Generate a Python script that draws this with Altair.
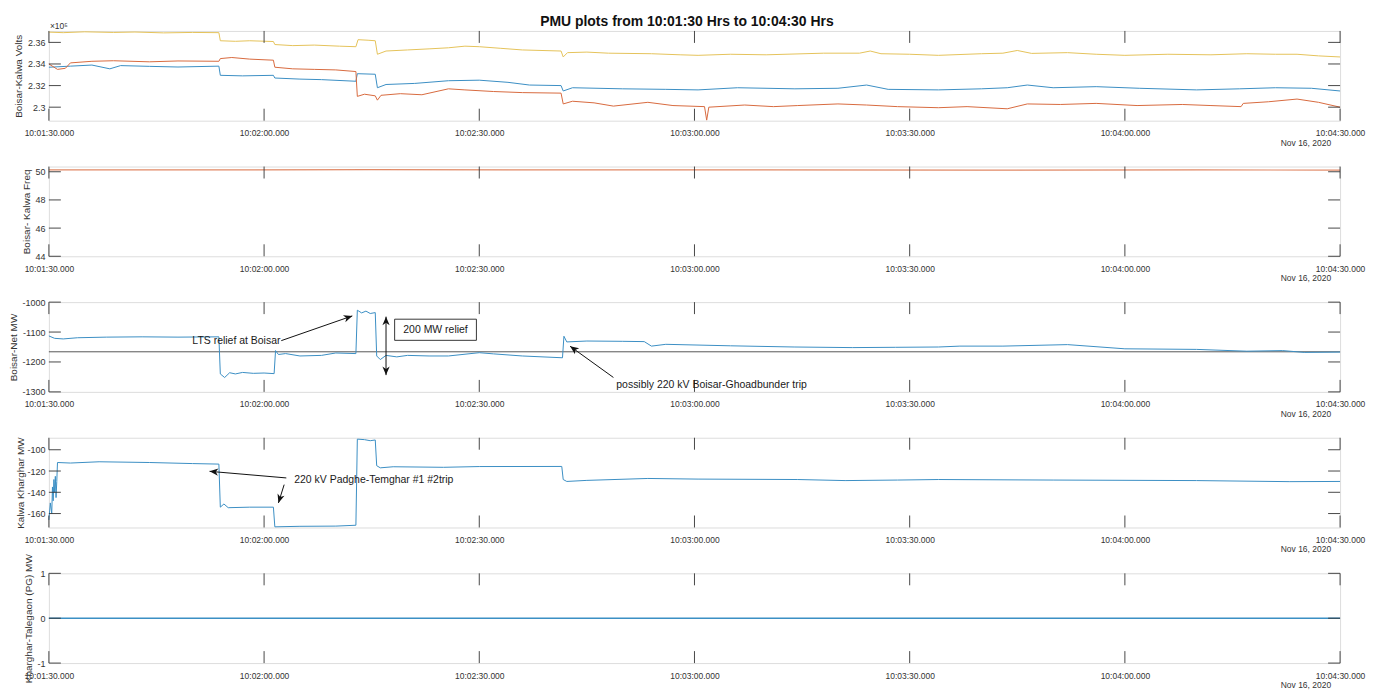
import json
import math
import altair as alt
import pandas as pd

FONT = "Liberation Sans"
W, H = 1295, 90
T0, T1 = 0, 180

BLUE = "#3b8fc4"
ORANGE = "#d86a3f"
YELLOW = "#e5c35a"
INK = "#333333"

# ---------------- data (t = seconds after 10:01:30) ----------------
time_ticks = [0, 30, 60, 90, 120, 150, 180]
time_labels = ["10:01:30.000", "10:02:00.000", "10:02:30.000", "10:03:00.000",
               "10:03:30.000", "10:04:00.000", "10:04:30.000"]
date_label = "Nov 16, 2020"

volts_blue = [(0, 233700), (3, 233800), (6, 233900), (8.5, 233550), (10, 233850), (14, 233780),
              (18, 233720), (23.7, 233800), (23.9, 232950), (27, 232900), (31.3, 232950),
              (31.5, 232700), (35, 232600), (38, 232550), (42.8, 232400), (43.0, 233100),
              (45.5, 233050), (45.8, 231800), (47, 232100), (51, 232200), (55.7, 232450),
              (60, 232500), (64, 232300), (67, 232050), (71.4, 232000), (71.7, 231500),
              (73, 231800), (80, 231700), (86, 231650), (90.5, 231600), (96, 231800),
              (104, 231700), (110, 231750), (114, 232050), (117, 231650), (124, 231600),
              (130, 231700), (133.6, 231800), (136.4, 232050), (140, 231800), (146, 231900),
              (152, 231750), (160, 231600), (166, 231700), (171, 231800), (176, 231750),
              (180, 231500)]
volts_orange = [(0, 234000), (1.2, 233500), (2.3, 233600), (3, 234100), (6, 234250), (9, 234300),
                (14, 234200), (18, 234280), (23.7, 234250), (23.9, 234500), (25.5, 234600),
                (28, 234450), (31.3, 234350), (31.5, 233700), (34, 233550), (37, 233500),
                (40, 233450), (42.8, 233300), (43.0, 231000), (44, 231200), (45.5, 231050),
                (45.8, 230650), (46.3, 231100), (49, 231250), (52, 231150), (55.7, 231700),
                (58, 231600), (62, 231450), (66, 231350), (71.4, 231300), (71.7, 230300),
                (73, 230550), (76, 230400), (78.7, 230100), (83.5, 230450), (87, 230150),
                (91.4, 230050), (91.7, 228800), (92.0, 230000), (97, 230200), (101, 230050),
                (104.4, 230150), (110, 230300), (114, 230200), (118.3, 230050), (124, 229950),
                (128, 230050), (133.6, 229850), (136.4, 230300), (141, 230250), (146, 230350),
                (151.7, 230150), (158, 230250), (162, 230150), (166.2, 230050), (166.5, 230350),
                (170, 230500), (174, 230750), (177, 230450), (180, 230000)]
volts_yellow = [(0, 236950), (2, 236900), (5, 236980), (9, 236920), (12, 236960), (16, 236880),
                (20, 236920), (23.7, 236900), (23.9, 236150), (26, 236100), (28, 236150),
                (31.3, 236080), (31.5, 235800), (34, 235700), (37, 235750), (40.5, 235650),
                (42.8, 235600), (43.1, 236250), (44.5, 236200), (45.5, 236150), (45.8, 234900),
                (47, 235200), (50, 235300), (53, 235400), (55.7, 235500), (58, 235650),
                (60, 235600), (63, 235450), (66, 235300), (71.4, 235200), (71.7, 234650),
                (72.3, 235050), (75, 235100), (78, 235000), (84, 234950), (88, 234850),
                (90.5, 234800), (95, 234900), (100, 234850), (108, 235000), (113, 235000),
                (114.5, 235200), (116, 234950), (120, 234900), (124, 234800), (130, 234950),
                (133, 235000), (135, 235250), (137, 234980), (142, 235050), (146, 234900),
                (150, 234800), (156, 234900), (162, 234850), (167, 234950), (171, 234900),
                (174, 234900), (177, 234750), (180, 234650)]

freq = [(0, 50.14), (20, 50.13), (45, 50.15), (70, 50.13), (100, 50.14), (130, 50.12),
        (160, 50.13), (180, 50.12)]

net_mw = [(0, -1113), (0.8, -1121), (2, -1123), (4, -1119), (8, -1117), (13, -1116), (18, -1117),
          (23.7, -1116), (23.9, -1240), (24.5, -1252), (25.2, -1236), (26, -1240), (27, -1235),
          (28.5, -1238), (30, -1237), (31.4, -1239), (31.6, -1162), (32, -1175), (33, -1172),
          (35, -1180), (38, -1178), (40, -1170), (42.8, -1172), (43.0, -1027), (43.6, -1036),
          (44.2, -1030), (44.8, -1038), (45.5, -1035), (45.7, -1180), (46.2, -1192), (47, -1178),
          (48.5, -1183), (50, -1178), (53, -1180), (55.7, -1180), (60, -1169), (62, -1173),
          (66, -1180), (71.6, -1186), (71.8, -1114), (72.2, -1133), (75, -1130), (80, -1131),
          (83, -1132), (84, -1147), (86, -1141), (95, -1146), (104, -1150), (112, -1152),
          (118, -1151), (124, -1150), (127, -1147), (133, -1147), (142, -1142), (150, -1156),
          (160, -1158), (167, -1164), (172, -1162), (175, -1168), (180, -1167)]
net_ref = -1166

kalwa_mw = [(0, -166), (0.2, -150), (0.4, -160), (0.5, -135), (0.6, -148), (0.7, -128),
            (0.8, -140), (0.9, -125), (1.0, -145), (1.1, -130), (1.2, -112), (3, -112.5),
            (7, -111.3), (14, -112), (20, -113), (23.7, -113.5), (23.9, -154), (24.4, -151),
            (25, -154.5), (28, -154), (31.3, -154), (31.5, -172.5), (35, -172), (40, -171.8),
            (42.8, -171), (43.0, -90), (44, -90.5), (44.8, -91.5), (45.5, -90.8), (45.7, -115),
            (46.2, -117), (48, -116), (55, -116.5), (60, -115.8), (71.5, -115.7), (71.7, -128),
            (72.2, -129.8), (75, -128.8), (83.5, -127), (90.5, -127.6), (104.4, -128),
            (111, -129), (118.3, -128.5), (124, -128), (140, -128.5), (160, -129),
            (173, -130), (180, -129.8)]

talegaon_mw = [(0, 0), (180, 0)]

# panel y ranges and ticks
volt_dom, volt_ticks = [228750, 237060], [230000, 232000, 234000, 236000]
freq_dom, freq_ticks = [44, 50.37], [44, 46, 48, 50]
net_dom, net_ticks = [-1300, -1000], [-1300, -1200, -1100, -1000]
kal_dom, kal_ticks = [-173.1, -88.7], [-160, -140, -120, -100]
tal_dom, tal_ticks = [-1, 1], [-1, 0, 1]

# annotations (time, value)
lts_text = {"t": 20.0, "v": -1131, "label": "LTS relief at Boisar"}
lts_arrow = ((32.4, -1128.7), (42.3, -1046))
relief_arrow = ((47.0, -1048.5), (47.0, -1244))
relief_box = {"t1": 48.2, "t2": 59.6, "v1": -1057, "v2": -1127.7, "label": "200 MW relief"}
trip_text = {"t": 79.1, "v": -1277, "label": "possibly 220 kV Boisar-Ghoadbunder trip"}
trip_arrow = ((78.7, -1251.8), (72.66, -1147.5))
padghe_text = {"t": 34.2, "v": -128.1, "label": "220 kV Padghe-Temghar #1 #2trip"}
padghe_arrow1 = ((33.1, -126.5), (22.4, -120.3))
padghe_arrow2 = ((32.8, -132.8), (32.0, -150.0))

# ---------------- helpers ----------------
xscale = alt.Scale(domain=[T0, T1], nice=False, zero=False)
x_label_expr = json.dumps(time_labels) + "[round(datum.value/30)]"
xaxis = alt.Axis(values=time_ticks, labelExpr=x_label_expr, title=None, ticks=False, tickSize=0,
                 domain=False, grid=False, labelPadding=8, labelFontSize=8.5, labelColor=INK,
                 labelFont=FONT, labelFlush=False, labelOverlap=False)


def X(field):
    return alt.X(field, type="quantitative", scale=xscale, axis=xaxis)


def make_y(dom, ticks, title, title_x, label_expr="toString(datum.value)"):
    scale = alt.Scale(domain=dom, nice=False, zero=False)
    axis = alt.Axis(values=ticks, labelExpr=label_expr, title=title, titleX=title_x,
                    titleFontSize=10, titleFontWeight="normal", titleFont=FONT, titleColor=INK,
                    ticks=False, tickSize=0, domain=False, grid=False, labelPadding=4,
                    labelFontSize=9, labelColor=INK, labelFont=FONT, labelOverlap=False)

    def Y(field):
        return alt.Y(field, type="quantitative", scale=scale, axis=axis)
    return Y


def line_layer(points, color, Y, width=1.0, opacity=1.0):
    df = pd.DataFrame(points, columns=["t", "v"])
    return alt.Chart(df).mark_line(color=color, strokeWidth=width, opacity=opacity).encode(
        x=X("t"), y=Y("v"))


def frame_ticks(Y, yticks):
    tdf = pd.DataFrame({"t": time_ticks})
    ydf = pd.DataFrame({"v": yticks})
    L = 12
    rule = dict(color=INK, strokeWidth=0.9)
    return [
        alt.Chart(tdf).mark_rule(**rule).encode(x=X("t"), y=alt.value(0), y2=alt.value(L)),
        alt.Chart(tdf).mark_rule(**rule).encode(x=X("t"), y=alt.value(H - L), y2=alt.value(H)),
        alt.Chart(ydf).mark_rule(**rule).encode(y=Y("v"), x=alt.value(0), x2=alt.value(L)),
        alt.Chart(ydf).mark_rule(**rule).encode(y=Y("v"), x=alt.value(W - L), x2=alt.value(W)),
    ]


def date_layer():
    df = pd.DataFrame({"t": [T1], "label": [date_label]})
    return alt.Chart(df).mark_text(align="right", baseline="middle", dx=-9, fontSize=8.5,
                                   font=FONT, color=INK).encode(
        x=X("t"), y=alt.value(H + 22), text="label:N")


ARROW = "M0,0L0.42,1L0,0.72L-0.42,1Z"


def to_px(dom, t, v):
    lo, hi = dom
    return (t - T0) / (T1 - T0) * W, (hi - v) / (hi - lo) * H


def head_angle(dom, p_from, p_to):
    x0, y0 = to_px(dom, *p_from)
    x1, y1 = to_px(dom, *p_to)
    return math.degrees(math.atan2(x1 - x0, -(y1 - y0))) % 360


def arrow_layers(Y, dom, arrows, double=False):
    segs = pd.DataFrame([{"t1": a[0][0], "v1": a[0][1], "t2": a[1][0], "v2": a[1][1]} for a in arrows])
    heads = []
    for a in arrows:
        heads.append({"t": a[1][0], "v": a[1][1], "ang": head_angle(dom, a[0], a[1])})
        if double:
            heads.append({"t": a[0][0], "v": a[0][1], "ang": head_angle(dom, a[1], a[0])})
    hdf = pd.DataFrame(heads)
    seg = alt.Chart(segs).mark_rule(color="#111", strokeWidth=1).encode(
        x=X("t1"), x2="t2", y=Y("v1"), y2="v2")
    head = alt.Chart(hdf).mark_point(shape=ARROW, filled=True, color="#111", size=300,
                                     opacity=1, strokeWidth=0).encode(
        x=X("t"), y=Y("v"), angle=alt.Angle("ang:Q", scale=None))
    return [seg, head]


def text_layer(Y, item, align="left", size=10.5):
    df = pd.DataFrame([item])
    return alt.Chart(df).mark_text(align=align, baseline="middle", fontSize=size, font=FONT,
                                   color="#1a1a1a").encode(x=X("t"), y=Y("v"), text="label:N")


# ---------------- panels ----------------
Y1 = make_y(volt_dom, volt_ticks, "Boisar-Kalwa Volts", -25,
            label_expr="toString(datum.value/100000)")
exp_df = pd.DataFrame({"label": ["\u00d710\u2075"]})
p1 = alt.layer(
    line_layer(volts_blue, BLUE, Y1),
    line_layer(volts_orange, ORANGE, Y1),
    line_layer(volts_yellow, YELLOW, Y1),
    *frame_ticks(Y1, volt_ticks),
    date_layer(),
    alt.Chart(exp_df).mark_text(align="left", baseline="middle", fontSize=8.5, font=FONT,
                                color=INK).encode(x=alt.value(1), y=alt.value(-5), text="label:N"),
).properties(width=W, height=H)

Y2 = make_y(freq_dom, freq_ticks, "Boisar- Kalwa Freq", -17)
p2 = alt.layer(
    line_layer(freq, ORANGE, Y2, width=1.2, opacity=0.8),
    *frame_ticks(Y2, freq_ticks),
    date_layer(),
).properties(width=W, height=H)

Y3 = make_y(net_dom, net_ticks, "Boisar-Net MW", -30)
ref_df = pd.DataFrame({"v": [net_ref]})
box_df = pd.DataFrame([relief_box])
box_text = {"t": (relief_box["t1"] + relief_box["t2"]) / 2,
            "v": (relief_box["v1"] + relief_box["v2"]) / 2, "label": relief_box["label"]}
p3 = alt.layer(
    alt.Chart(ref_df).mark_rule(color="#444", strokeWidth=0.9).encode(y=Y3("v")),
    line_layer(net_mw, BLUE, Y3),
    *frame_ticks(Y3, net_ticks),
    *arrow_layers(Y3, net_dom, [lts_arrow, trip_arrow]),
    *arrow_layers(Y3, net_dom, [relief_arrow], double=True),
    alt.Chart(box_df).mark_rect(fill="white", stroke="#222", strokeWidth=0.9).encode(
        x=X("t1"), x2="t2", y=Y3("v1"), y2="v2"),
    text_layer(Y3, box_text, align="center"),
    text_layer(Y3, lts_text),
    text_layer(Y3, trip_text),
    date_layer(),
).properties(width=W, height=H)

Y4 = make_y(kal_dom, kal_ticks, "Kalwa Kharghar MW", -23)
p4 = alt.layer(
    line_layer(kalwa_mw, BLUE, Y4),
    *frame_ticks(Y4, kal_ticks),
    *arrow_layers(Y4, kal_dom, [padghe_arrow1, padghe_arrow2]),
    text_layer(Y4, padghe_text),
    date_layer(),
).properties(width=W, height=H)

Y5 = make_y(tal_dom, tal_ticks, "Kharghar-Talegaon (PG) MW", -15)
p5 = alt.layer(
    line_layer(talegaon_mw, BLUE, Y5, width=1.4),
    *frame_ticks(Y5, tal_ticks),
    date_layer(),
).properties(width=W, height=H)

chart = alt.vconcat(p1, p2, p3, p4, p5, spacing=46, bounds="flush").properties(
    title=alt.TitleParams("PMU plots from 10:01:30 Hrs to 10:04:30 Hrs", fontSize=14,
                          font=FONT, fontWeight="bold", anchor="middle", color="#111", offset=-8),
    padding={"left": 0, "top": 6, "right": 0, "bottom": 0},
).configure_view(stroke="#555555", strokeWidth=1).configure(font=FONT)

chart.save("out.html", embed_options={"renderer": "svg", "actions": False})
